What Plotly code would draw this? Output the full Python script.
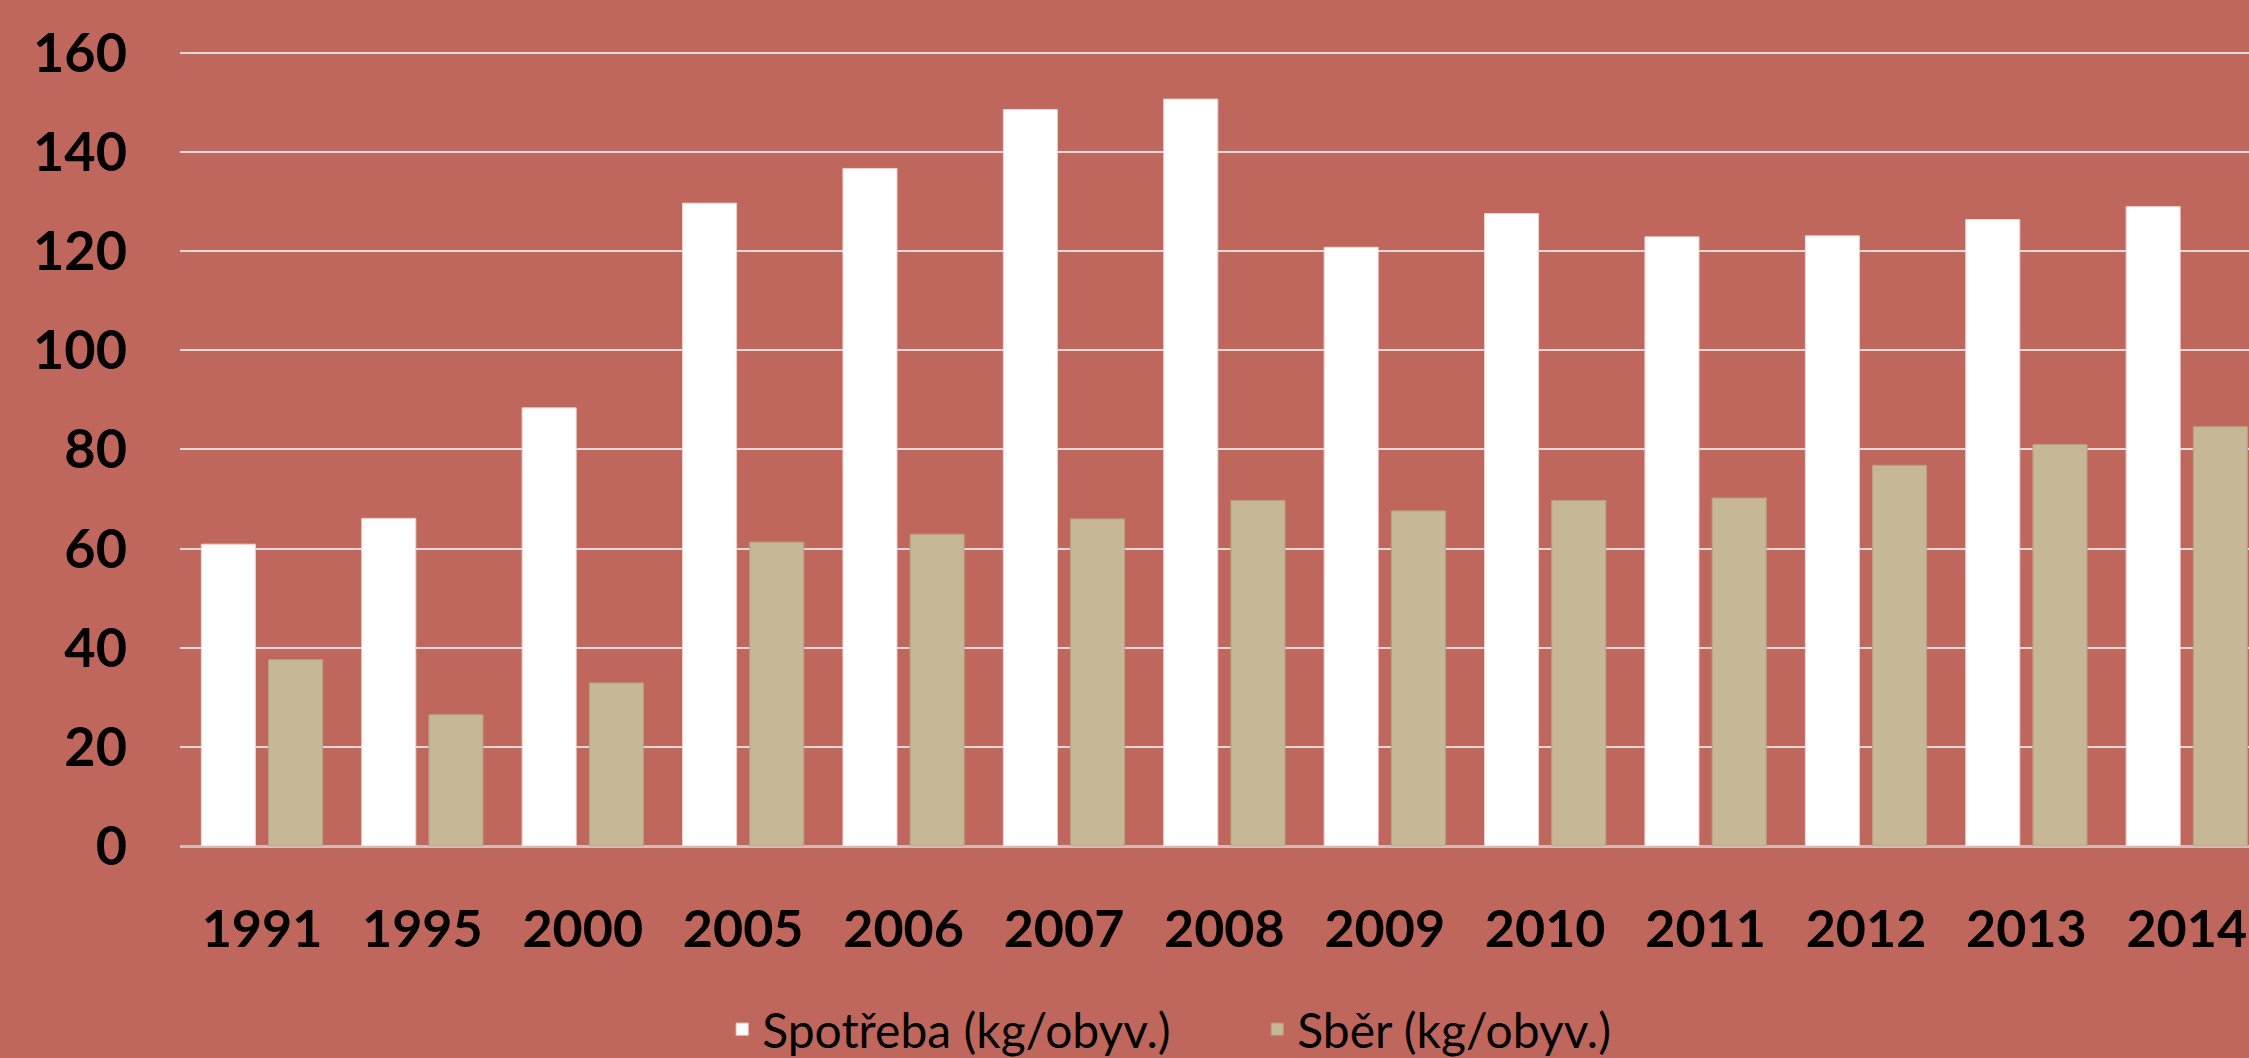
import plotly.graph_objects as go

years = ["1991", "1995", "2000", "2005", "2006", "2007", "2008",
         "2009", "2010", "2011", "2012", "2013", "2014"]
spotreba = [60.9, 66.1, 88.4, 129.7, 136.7, 148.6, 150.7,
            120.8, 127.6, 122.9, 123.1, 126.4, 129.0]
sber = [37.6, 26.5, 32.9, 61.3, 62.9, 66.0, 69.7,
        67.6, 69.7, 70.2, 76.8, 81.0, 84.6]
y_ticks = [0, 20, 40, 60, 80, 100, 120, 140, 160]

BG = "#C0675D"
WHITE = "#FFFFFF"
BEIGE = "#C6B796"

W, H = 2249, 1058
L, R, T, B = 180, 0, 51, 212

fig = go.Figure()
fig.add_trace(go.Bar(
    x=list(range(len(years))), y=spotreba, name="Spotřeba (kg/obyv.)",
    marker=dict(color=WHITE, line=dict(color="#EBD3D0", width=1)),
    width=0.337, offset=-0.378,
))
fig.add_trace(go.Bar(
    x=list(range(len(years))), y=sber, name="Sběr (kg/obyv.)",
    marker=dict(color=BEIGE, line=dict(color="#B5A283", width=1)),
    width=0.337, offset=0.041,
))

fig.update_layout(
    width=W, height=H,
    margin=dict(l=L, r=R, t=T, b=B, pad=0),
    paper_bgcolor=BG, plot_bgcolor=BG,
    barmode="group",
    font=dict(family="Lato, 'Open Sans', sans-serif", color="black"),
    showlegend=True,
    legend=dict(
        orientation="h", xref="container", x=0.559, xanchor="center",
        yref="container", y=0.027, yanchor="middle",
        font=dict(size=48, family="Lato, sans-serif", color="black"),
        bgcolor="rgba(0,0,0,0)", itemwidth=30, traceorder="normal",
        entrywidth=490,
    ),
    xaxis=dict(
        tickmode="array", tickvals=list(range(len(years))), ticktext=years,
        range=[-0.511, 12.388],
        showgrid=False, zeroline=False, showline=False, ticks="",
        tickfont=dict(size=52, family="Lato, sans-serif", color="black", weight="bold"),
        ticklabelstandoff=48,
    ),
    yaxis=dict(
        range=[0, 160.4], tickmode="array", tickvals=y_ticks,
        showgrid=True, gridcolor="#E2DADA", gridwidth=1.5,
        zeroline=True, zerolinecolor="#DCB9B5", zerolinewidth=2.5,
        showline=False, ticks="",
        tickfont=dict(size=54, family="Lato, sans-serif", color="black", weight="bold"),
        ticklabelstandoff=52,
    ),
)

fig.write_html(
    "out.html",
    config={"displayModeBar": False},
    post_script="document.body.style.margin='0';document.body.style.overflow='hidden';",
)
